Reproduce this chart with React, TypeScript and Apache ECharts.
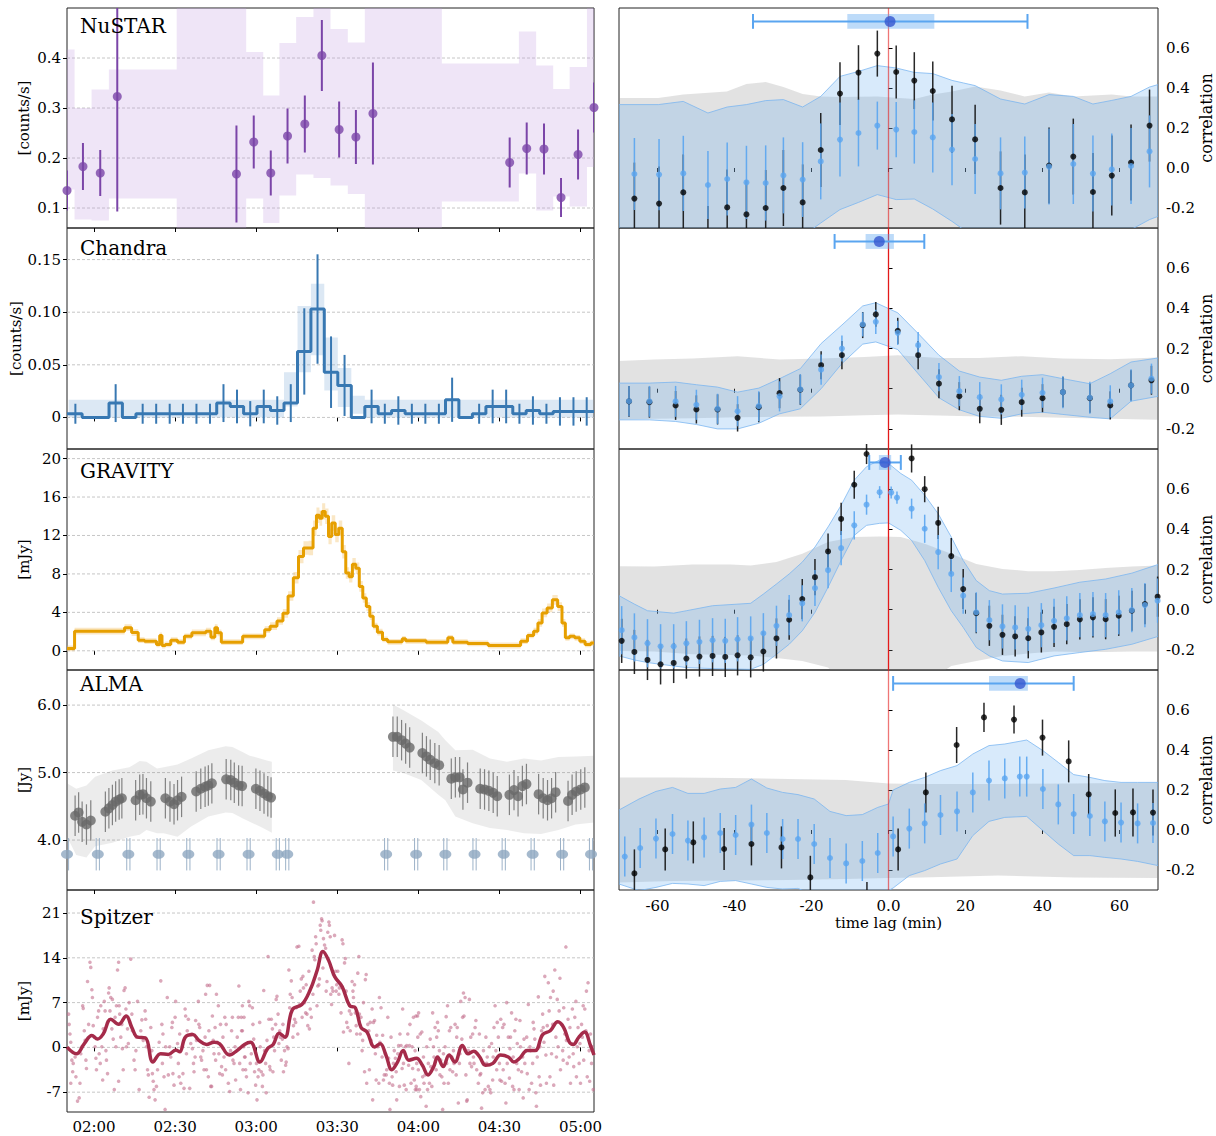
import React, { useEffect, useRef } from 'react'
import * as echarts from 'echarts'

const FONT = 'DejaVu Serif'

// ---------- shared axes ----------
const timeTicks = [120, 150, 180, 210, 240, 270, 300] // minutes after 00:00
const lagTicks = [-60, -40, -20, 0, 20, 40, 60]
const corrTicks = [-0.2, 0, 0.2, 0.4, 0.6]

// ---------- NuSTAR [counts/s] ----------
const nustarT = [110, 115.9, 122.3, 128.6, 172.7, 179.1, 185.4, 191.6, 198.0, 204.3, 210.7, 216.9, 223.2, 273.8, 280.1, 286.5, 292.8, 299.1, 305]
const nustarRate = [0.135, 0.183, 0.17, 0.323, 0.168, 0.232, 0.17, 0.244, 0.268, 0.405, 0.257, 0.242, 0.289, 0.191, 0.219, 0.218, 0.121, 0.207, 0.301]
const nustarErr = [0.04, 0.047, 0.046, 0.23, 0.097, 0.053, 0.045, 0.055, 0.057, 0.071, 0.056, 0.054, 0.102, 0.05, 0.052, 0.051, 0.039, 0.05, 0.05]
const nustarBandEdges = [110, 112.8, 119.1, 125.5, 150.6, 176.3, 182.6, 188.6, 194.8, 201.2, 207.5, 213.9, 220.2, 248.7, 277.2, 283.6, 289.9, 296.0, 302.4, 305]
const nustarBandLo = [0.137, 0.077, 0.075, 0.119, 0.04, 0.119, 0.07, 0.125, 0.167, 0.16, 0.145, 0.128, 0.04, 0.113, 0.169, 0.095, 0.123, 0.103, 0.182]
const nustarBandHi = [0.417, 0.3, 0.337, 0.377, 0.55, 0.412, 0.325, 0.43, 0.482, 0.55, 0.458, 0.431, 0.55, 0.389, 0.453, 0.385, 0.338, 0.382, 0.55]

// ---------- Chandra [counts/s], 5 min bins ----------
const chandraT = [113.1, 118.1, 123.1, 128.0, 133.0, 138.0, 143.0, 148.0, 152.9, 157.9, 162.9, 167.9, 172.9, 177.8, 182.8, 187.8, 192.8, 197.8, 202.7, 207.7, 212.7, 217.7, 222.7, 227.6, 232.6, 237.6, 242.6, 247.6, 252.5, 257.5, 262.5, 267.5, 272.5, 277.4, 282.4, 287.4, 292.4, 297.4, 302.3]
const chandraRate = [0.0035, 0, 0, 0.0136, 0, 0.0035, 0.0035, 0.0035, 0.0035, 0.0035, 0.0035, 0.0136, 0.0104, 0.0035, 0.0104, 0.0066, 0.0136, 0.0627, 0.103, 0.043, 0.0304, 0, 0.0104, 0.0035, 0.0066, 0.0035, 0.0035, 0.0035, 0.0168, 0, 0.0035, 0.0104, 0.0104, 0.0035, 0.0066, 0.0035, 0.0057, 0.0057, 0.0057]
const chandraErr = [0.0095, null, null, 0.018, null, 0.0095, 0.0095, 0.0095, 0.0095, 0.0095, 0.0095, 0.018, 0.016, 0.012, 0.016, 0.0135, 0.018, 0.041, 0.052, 0.034, 0.029, null, 0.016, 0.0095, 0.0135, 0.0095, 0.0095, 0.0095, 0.021, null, 0.0095, 0.016, 0.016, 0.0095, 0.0135, 0.0095, 0.0135, 0.0135, 0.0135]
const chandraBandLo = [0, 0, 0, 0, 0, 0, 0, 0, 0, 0, 0, 0, 0, 0, 0, 0, 0.0104, 0.043, 0.059, 0.0256, 0.0098, 0.0035, 0, 0, 0, 0, 0, 0, 0, 0, 0, 0, 0, 0, 0, 0, 0, 0, 0]
const chandraBandHi = [0.0168, 0.0168, 0.0168, 0.0168, 0.0168, 0.0168, 0.0168, 0.0168, 0.0168, 0.0168, 0.0168, 0.0168, 0.0168, 0.0168, 0.0168, 0.0168, 0.043, 0.106, 0.127, 0.076, 0.047, 0.0206, 0.0168, 0.0168, 0.0168, 0.0168, 0.0168, 0.0168, 0.0168, 0.0168, 0.0168, 0.0168, 0.0168, 0.0168, 0.0168, 0.0168, 0.0168, 0.0168, 0.0168]

// ---------- GRAVITY [mJy] ----------
const gravT = [110.0, 112.0, 113.6, 118.2, 124.1, 130.0, 132.6, 135.2, 137.5, 139.9, 142.3, 143.9, 144.7, 145.6, 147.2, 149.6, 152.2, 154.7, 157.7, 160.5, 162.3, 164.2, 165.2, 166.2, 168.0, 170.6, 173.5, 176.5, 179.5, 182.4, 183.9, 186.4, 189.0, 190.8, 192.8, 194.7, 196.6, 198.4, 200.4, 201.7, 202.9, 203.9, 204.9, 206.2, 207.3, 208.6, 209.9, 211.2, 212.5, 213.8, 215.0, 216.2, 217.5, 218.8, 220.1, 221.4, 222.7, 223.9, 225.8, 227.7, 229.6, 231.5, 233.4, 234.7, 235.9, 238.8, 242.3, 243.5, 246.7, 250.0, 251.8, 253.7, 255.6, 257.6, 258.9, 262.0, 265.2, 266.5, 270.4, 274.4, 276.6, 279.1, 281.7, 283.6, 284.9, 286.7, 288.6, 290.6, 292.5, 293.8, 295.0, 296.9, 298.8, 300.7, 302.7, 305.0]
const gravFlux = [0.24, 0.24, 2.04, 2.04, 2.04, 2.04, 2.4, 1.9, 1.1, 1.0, 1.0, 0.66, 1.6, 0.55, 0.66, 1.1, 0.9, 1.5, 1.87, 1.87, 2.04, 1.4, 2.4, 1.87, 0.9, 0.9, 0.9, 1.5, 1.5, 1.5, 2.2, 2.56, 3.1, 3.9, 5.7, 7.6, 9.8, 10.7, 10.7, 12.75, 14.1, 13.8, 14.5, 14.0, 11.9, 13.3, 12.1, 12.75, 10.3, 8.1, 7.7, 9.0, 8.6, 6.7, 5.5, 4.6, 3.6, 2.56, 1.94, 1.18, 0.93, 0.93, 0.93, 1.24, 1.04, 1.04, 1.04, 0.9, 0.9, 0.9, 1.35, 0.9, 0.9, 0.9, 0.76, 0.76, 0.76, 0.55, 0.55, 0.55, 0.55, 1.0, 1.6, 2.04, 2.9, 3.94, 4.46, 5.3, 4.6, 2.9, 1.35, 1.5, 1.35, 1.0, 0.66, 0.8]
const gravErr = [0.3, 0.3, 0.35, 0.35, 0.35, 0.35, 0.35, 0.35, 0.3, 0.3, 0.3, 0.3, 0.3, 0.3, 0.3, 0.3, 0.3, 0.3, 0.35, 0.35, 0.35, 0.3, 0.35, 0.35, 0.3, 0.3, 0.3, 0.3, 0.3, 0.3, 0.35, 0.4, 0.4, 0.45, 0.5, 0.6, 0.7, 0.7, 0.75, 0.8, 0.8, 0.8, 0.85, 0.8, 0.8, 0.8, 0.8, 0.8, 0.7, 0.6, 0.6, 0.65, 0.6, 0.55, 0.5, 0.45, 0.4, 0.35, 0.35, 0.3, 0.3, 0.3, 0.3, 0.3, 0.3, 0.3, 0.3, 0.3, 0.3, 0.3, 0.3, 0.3, 0.3, 0.3, 0.3, 0.3, 0.3, 0.3, 0.3, 0.3, 0.3, 0.3, 0.3, 0.35, 0.4, 0.45, 0.45, 0.5, 0.45, 0.4, 0.3, 0.3, 0.3, 0.3, 0.3, 0.3]

// ---------- ALMA [Jy] ----------
const almaT = [113.0, 114.3, 115.6, 117.2, 118.8, 124.2, 125.5, 126.8, 128.0, 129.3, 130.3, 135.4, 136.9, 138.1, 139.4, 141.0, 146.4, 148.1, 149.6, 150.9, 152.4, 157.8, 159.5, 161.1, 162.3, 163.6, 168.9, 170.6, 171.9, 173.5, 174.8, 179.9, 181.4, 182.9, 184.3, 185.5, 230.6, 232.2, 233.8, 235.3, 236.8, 241.5, 243.0, 244.4, 246.1, 247.7, 252.2, 253.7, 255.3, 256.5, 258.2, 262.9, 264.5, 266.1, 267.7, 269.2, 273.7, 275.4, 276.9, 278.5, 280.0, 284.5, 286.2, 287.8, 289.3, 290.8, 295.4, 296.9, 298.4, 300.1, 301.6]
const almaFlux = [4.36, 4.41, 4.27, 4.23, 4.29, 4.42, 4.47, 4.52, 4.57, 4.6, 4.62, 4.59, 4.67, 4.68, 4.62, 4.57, 4.62, 4.57, 4.53, 4.59, 4.64, 4.72, 4.76, 4.79, 4.81, 4.84, 4.9, 4.89, 4.85, 4.81, 4.8, 4.76, 4.73, 4.69, 4.65, 4.63, 5.53, 5.53, 5.48, 5.43, 5.37, 5.29, 5.24, 5.19, 5.14, 5.11, 4.91, 4.93, 4.93, 4.75, 4.85, 4.76, 4.75, 4.73, 4.7, 4.65, 4.67, 4.74, 4.65, 4.8, 4.83, 4.68, 4.62, 4.59, 4.62, 4.71, 4.58, 4.67, 4.72, 4.75, 4.78]
const ALMA_ERR = 0.3
const almaBand1T = [110, 113.4, 117.2, 120.4, 126.8, 133.1, 136.9, 139.4, 143.3, 145.8, 150.9, 155.9, 162.3, 168.7, 171.2, 175.1, 177.6, 181.4, 183.9, 185.8]
const almaBand1Lo = [4.05, 3.78, 3.74, 3.91, 3.96, 4.05, 4.08, 4.15, 4.1, 4.1, 4.05, 4.2, 4.35, 4.41, 4.4, 4.32, 4.27, 4.2, 4.15, 4.11]
const almaBand1Hi = [4.84, 4.76, 4.81, 4.94, 5.03, 5.08, 5.17, 5.16, 5.06, 5.08, 5.12, 5.21, 5.33, 5.39, 5.38, 5.3, 5.25, 5.21, 5.18, 5.16]
const almaBand2T = [230.6, 234.7, 241.1, 247.4, 250.0, 253.7, 260.1, 266.5, 272.8, 279.1, 285.4, 291.8, 298.2, 305]
const almaBand2Lo = [5.03, 4.99, 4.89, 4.67, 4.59, 4.35, 4.25, 4.18, 4.15, 4.1, 4.09, 4.15, 4.23, 4.26]
const almaBand2Hi = [6.01, 5.92, 5.77, 5.6, 5.48, 5.33, 5.34, 5.21, 5.16, 5.21, 5.18, 5.23, 5.24, 5.25]
const almaCalT = [110, 121.4, 132.7, 143.9, 154.9, 166.1, 177.2, 188.0, 191.5, 228.1, 239.2, 250.0, 260.8, 271.6, 282.3, 293.2, 303.9]
const almaCalFlux = [3.79, 3.79, 3.79, 3.79, 3.79, 3.79, 3.79, 3.79, 3.79, 3.79, 3.79, 3.79, 3.79, 3.79, 3.79, 3.79, 3.79]
const ALMA_CAL_ERR = 0.24

// ---------- Spitzer [mJy] ----------
const spitzerT = [110.0, 113.5, 116.35, 119.2, 121.3, 123.4, 126.2, 129.1, 131.9, 134.0, 136.1, 139.0, 141.8, 144.6, 147.5, 150.3, 151.7, 153.8, 156.6, 158.8, 161.6, 164.4, 166.5, 170.1, 172.9, 175.7, 177.9, 181.4, 184.2, 186.3, 188.5, 190.6, 193.4, 196.9, 199.8, 202.6, 204.7, 206.8, 209.0, 211.8, 214.6, 216.7, 218.8, 221.0, 223.8, 225.9, 228.0, 230.2, 232.3, 234.4, 236.5, 239.3, 241.5, 243.6, 245.7, 247.1, 249.2, 251.4, 253.5, 256.3, 258.4, 260.5, 262.7, 264.8, 267.6, 270.4, 273.3, 275.4, 277.5, 280.3, 283.2, 286.0, 288.8, 291.6, 293.8, 295.9, 297.3, 299.4, 301.5, 303.7, 305.0]
const spitzerFlux = [0.05, -1.0, 0.56, 1.85, 1.3, 2.1, 4.4, 3.6, 4.9, 3.1, 1.6, 1.5, -2.3, -1.0, -1.1, -0.4, -0.7, 1.6, 2.0, 1.1, 0.46, 0.8, 0.56, -1.2, -0.5, 0.46, 0.8, -2.3, -0.2, 0.46, 2.2, 1.6, 5.9, 6.7, 8.8, 12.1, 15.0, 13.6, 11.1, 9.5, 6.5, 6.2, 3.1, 2.4, 0.05, 0.56, -1.2, -3.5, -2.3, -0.5, -2.0, -1.7, -2.8, -4.3, -3.0, -1.5, -3.0, -1.2, -2.3, 0.3, -1.0, -0.6, -1.5, -2.8, -2.5, -1.2, -1.5, -2.3, -1.7, -0.5, -0.5, 2.0, 2.6, 4.0, 3.1, 0.8, 0.46, 1.6, 2.4, 0.3, -1.2]
const spitzerDots = [
  [110.6, 5.2], [110.8, 3.6], [111.1, 2.1], [111.4, 0.8], [111.8, -2.0], [112.1, -3.8], [111.4, -5.6], [112.3, -2.5], [113.0, -1.5], [113.3, -4.6], [113.9, -8.4], [114.5, -7.9], [114.8, -5.6], [115.1, -1.0], [115.5, 0.1], [115.8, 6.5], [116.0, 6.1], [116.4, 2.6], [116.7, 1.1], [117.0, -2.0],
  [117.2, -3.3], [117.6, 10.3], [118.0, 3.6], [118.5, 13.3], [118.8, 12.5], [119.2, 9.0], [119.4, 7.8], [119.7, 3.4], [120.1, 1.6], [120.4, 0.1], [120.7, -1.7], [120.9, -3.5], [121.3, 4.7], [121.7, 5.7], [121.9, -1.0], [122.3, -2.5], [122.5, 6.5], [122.9, 0.1], [123.2, -5.1], [123.4, 2.9],
  [123.8, 7.2], [124.1, 5.7], [124.4, -0.5], [124.6, -2.0], [125.0, -4.1], [125.4, 8.5], [125.6, 9.3], [125.9, 5.7], [126.2, 7.8], [126.6, 2.9], [126.8, 7.5], [127.1, 1.3], [127.5, -6.6], [127.8, 4.7], [128.1, 0.1], [128.3, 6.5], [128.7, 12.1], [129.1, 13.3], [129.1, -5.3], [129.3, 6.5],
  [129.5, 5.2], [129.9, 1.6], [130.3, 3.6], [130.5, -0.2], [130.8, -3.5], [131.1, 8.9], [131.5, 9.3], [131.8, 6.0], [132.0, 0.1], [132.4, 2.9], [132.7, 0.6], [133.0, 7.0], [133.6, 13.8], [134.0, 5.2], [134.2, 2.6], [134.8, -2.0], [135.2, -3.5], [135.5, -0.5], [135.7, 1.6], [136.1, 7.2],
  [136.7, -6.6], [137.3, 2.6], [137.7, 4.3], [138.2, 1.1], [138.9, 5.7], [139.1, 4.4], [139.4, 0.1], [139.8, -3.5], [140.1, -4.3], [140.4, -7.8], [141.0, 3.1], [141.4, -0.5], [141.6, -4.1], [141.9, -5.3], [142.2, -6.6], [142.6, -8.2], [143.1, -6.1], [143.5, -3.5], [144.1, 0.8], [144.7, 10.4],
  [145.1, 3.6], [145.3, -2.5], [145.5, 2.1], [145.9, -4.6], [146.3, -9.7], [146.5, 0.1], [147.1, 7.8], [147.5, -4.3], [148.0, 0.1], [148.4, -1.5], [148.8, 3.1], [149.0, 3.9], [149.2, -4.1], [149.6, -5.9], [150.0, 4.7], [150.2, 7.2], [150.9, 0.6], [151.2, -2.5], [151.5, -4.6], [151.7, 2.1],
  [152.1, -5.6], [152.7, 0.1], [152.9, -4.1], [153.3, -6.4], [153.7, 6.0], [153.9, 4.9], [154.2, -1.0], [154.5, 2.6], [154.9, 4.4], [155.4, -6.4], [155.8, 0.6], [156.1, 2.1], [156.4, -0.2], [156.8, -2.5], [157.0, -3.8], [157.4, -1.5], [157.6, 4.2], [157.9, 1.1], [158.6, 7.2], [158.8, 3.6],
  [159.1, 3.1], [159.5, -1.5], [159.8, -2.0], [160.3, -0.5], [160.7, -3.5], [161.1, 1.6], [161.3, 8.3], [161.6, -3.5], [161.9, 9.7], [162.3, -4.6], [162.5, 2.6], [162.8, 9.7], [163.2, -6.1], [163.5, -6.1], [163.8, 4.9], [164.1, 1.1], [164.4, -1.0], [164.8, 3.1], [165.0, -2.0], [165.3, 8.3],
  [165.6, 0.8], [166.0, 6.5], [166.2, -1.0], [166.5, -4.1], [166.8, 3.6], [167.2, -3.0], [167.5, -4.3], [167.7, 1.6], [168.1, -1.5], [168.4, 4.7], [168.7, -3.5], [168.9, 3.6], [169.7, -5.6], [169.9, -1.0], [170.2, -6.9], [170.5, -0.5], [170.9, 2.6], [171.2, 4.7], [171.4, -2.0], [171.8, -2.5],
  [172.2, 0.1], [172.4, -5.1], [173.0, 1.6], [173.4, 4.7], [173.6, 9.6], [173.9, -2.5], [174.2, -6.6], [174.6, 2.6], [174.9, 6.5], [175.1, -3.5], [175.5, 4.7], [175.9, -1.5],
  [174.5, 4.7], [174.9, 2.6], [175.4, 0.1], [175.7, -1.5], [176.1, -3.5], [176.4, -4.6], [177.0, -7.1], [177.3, 7.2], [177.6, 6.5], [177.8, -2.5], [178.2, -1.0], [178.6, 6.2], [178.8, 3.6], [179.1, 1.3], [179.4, -3.8], [179.8, -5.9], [180.1, -2.5], [180.3, -8.2], [180.7, -4.6], [181.0, -3.5],
  [181.3, 3.9], [181.5, 0.1], [181.9, -3.8], [182.3, -6.1], [182.5, -4.3], [182.8, 8.9], [183.1, -0.5], [183.5, -2.5], [183.7, -7.1], [184.0, 1.1], [184.4, 14.2], [184.7, 4.4], [185.0, -3.0], [185.2, -3.5], [185.6, 4.4], [186.0, 2.9], [186.2, -3.8], [186.5, 1.6], [186.8, -0.5], [187.2, 3.6],
  [187.4, 7.5], [187.7, 8.0], [188.1, 5.2], [188.4, 0.6], [188.7, 2.6], [188.9, 1.6], [189.3, -2.0], [189.7, 1.3], [189.9, 3.6], [190.1, -3.8], [190.5, -0.5], [190.9, -2.8], [191.1, -2.3], [191.4, 0.1], [191.8, -0.2], [192.1, 12.1], [192.4, 6.2], [192.6, 8.3], [193.0, 10.4], [193.3, 7.8],
  [193.6, 1.6], [193.8, 3.4], [194.2, 4.4], [194.6, 3.9], [194.8, 6.2], [195.1, 15.7], [195.4, 2.1], [195.8, 15.8], [196.1, 6.7], [196.3, 8.8], [196.7, 10.7], [197.0, 4.7], [197.3, 11.1], [197.5, 9.3], [197.9, 7.0], [198.3, 5.4], [198.5, 9.8], [198.8, 5.2], [199.1, 3.4], [199.5, 11.9],
  [199.7, 2.9], [200.0, 6.0], [200.4, 4.7], [200.7, 15.2], [201.0, 8.3], [201.2, 22.7], [201.5, 14.2], [201.7, 13.7], [202.0, 17.3], [202.2, 16.2], [202.5, 6.5], [202.8, 9.6], [203.2, 9.8], [203.4, 10.7], [203.7, 19.1], [203.9, 18.3], [204.2, 20.1], [204.4, 19.8], [204.7, 12.4], [204.9, 17.0],
  [205.3, 16.0], [205.7, 15.5], [205.9, 8.8], [206.2, 10.3], [206.5, 18.0], [206.9, 19.6], [207.1, 19.1], [207.4, 17.3], [207.6, 8.3], [207.9, 6.7], [208.1, 9.3], [208.4, 8.8], [208.6, 11.4], [209.0, 17.5], [209.4, 11.9], [209.6, 8.8], [209.8, 9.8], [210.2, 11.9], [210.6, 8.3], [210.8, 9.3],
  [211.4, 5.4], [211.8, 16.8], [212.1, 16.2], [212.3, 2.4], [212.7, 13.2], [213.0, 13.9], [213.3, 8.8], [213.5, 3.9], [213.9, 3.1], [214.3, -2.5], [214.5, 5.7], [214.8, 2.6], [215.1, 5.2], [215.5, 10.3], [215.8, 8.8], [216.0, 7.8], [216.4, 9.8], [216.7, 5.4], [217.0, 3.4], [217.2, 2.1],
  [217.6, 11.6], [218.0, 14.2], [218.2, 5.2], [218.5, 2.1], [218.8, 4.7], [219.2, -0.5], [219.4, 1.1], [219.7, 7.0], [220.1, -3.8], [220.4, 10.6], [220.7, 11.4], [220.9, -5.6], [221.3, 3.6], [221.7, 2.6], [221.9, -3.5], [222.2, 3.9], [222.5, 1.1], [222.9, 6.0], [223.1, -8.2], [223.4, 3.9],
  [223.8, 4.2], [224.1, -1.0], [224.4, -5.1], [224.6, 1.9], [225.0, 0.1], [225.4, -5.6], [225.6, 7.8], [225.8, 0.8], [226.2, 6.2], [226.6, -1.5], [226.8, 1.9], [227.1, -5.1], [227.4, -4.3], [227.8, -1.0], [228.1, -4.3], [228.3, -3.5], [228.7, 4.7], [229.0, -1.7], [229.3, -5.6], [229.5, -9.7],
  [229.9, 1.6], [230.3, -4.6], [230.5, -5.9], [230.8, -2.5], [231.1, -0.5], [231.5, -1.7], [231.8, -3.8], [232.0, -8.2], [232.4, -1.0], [232.7, 0.3], [233.0, -6.1], [233.2, 2.1], [233.6, 0.3], [234.0, -3.3], [234.2, 6.0], [234.5, -2.5], [234.8, -5.9], [235.2, 0.1], [235.5, -6.6], [235.7, 0.3],
  [236.1, 2.1], [236.4, -2.8], [236.7, 0.3], [236.9, 3.6], [237.3, -5.6], [237.7, 0.1], [237.9, -3.3], [238.2, 4.7], [238.5, -5.1], [238.9, -6.6], [239.1, 4.9], [239.4, -6.6], [239.8, 1.6], [240.1, 5.4],
  [238.8, -0.5], [239.2, -6.1], [239.4, -2.5], [239.7, 4.9], [240.0, -3.5], [240.4, -6.6], [240.7, 2.1], [240.9, -7.7], [241.3, 2.4], [241.6, -4.6], [241.9, -1.5], [242.1, -5.6], [242.5, -4.3], [242.9, -9.2], [243.1, 0.1], [243.4, -6.6], [243.7, -2.5], [244.1, -5.6], [244.4, 1.3], [244.6, -3.0],
  [245.0, -6.1], [245.3, 5.4], [245.6, 0.1], [245.8, -1.5], [246.2, 3.1], [246.6, -3.5], [246.8, 1.6], [247.1, 3.9], [247.4, 2.6], [247.8, -0.5], [248.0, -4.3], [248.3, -2.0], [248.7, -4.6], [249.0, -9.7], [249.3, -1.0], [249.5, -5.6], [249.9, 0.1], [250.3, 4.8], [250.5, -2.5], [250.8, 6.5],
  [251.1, -5.6], [251.5, 2.6], [251.7, -3.5], [252.0, 3.1], [252.4, -1.5], [252.7, -3.8], [253.0, -0.5], [253.2, -2.5], [253.6, 3.6], [254.0, -4.3], [254.2, 1.6], [254.4, 3.1], [254.8, -8.7], [255.2, -2.5], [255.4, -1.0], [255.7, 7.2], [256.1, 1.3], [256.4, 4.7], [256.7, 8.5], [256.9, 4.9],
  [257.3, 7.8], [257.6, -4.3], [257.9, -8.4], [258.1, -8.2], [258.5, -0.5], [258.9, 7.5], [259.1, -2.5], [259.4, 1.6], [259.7, -3.0], [260.1, 2.1], [260.4, -1.5], [260.6, -2.5], [261.0, 3.1], [261.3, 4.2], [261.6, -3.5], [261.8, -1.0], [262.2, -5.6], [262.6, 2.1], [262.8, -4.3], [263.1, -4.1],
  [263.4, -9.5], [263.8, -7.1], [264.1, -0.5], [264.3, -2.5], [264.7, -6.6], [265.0, 1.6], [265.3, -2.5], [265.5, -1.5], [265.9, -6.1], [266.3, 0.1], [266.5, -6.6], [266.8, -7.1], [267.1, 0.6], [267.5, -5.1], [267.7, -1.5], [268.0, 3.1], [268.4, 6.5], [268.7, -0.5], [269.0, -3.5], [269.2, 3.9],
  [269.6, 1.6], [270.0, -2.5], [270.2, -5.1], [270.5, 4.4], [270.8, -5.3], [271.2, 3.1], [271.4, -3.5], [271.7, 3.6], [272.1, -5.6], [272.4, -8.7], [272.7, 7.0], [272.9, -2.5], [273.3, 1.6], [273.7, -4.8], [273.9, -0.2], [274.1, 1.6], [274.5, 5.4], [274.9, -6.1], [275.1, -1.5], [275.4, -6.6],
  [275.7, 2.6], [276.1, 4.4], [276.4, -2.5], [276.6, 0.6], [277.0, -3.5], [277.3, -6.6], [277.6, 4.2], [277.8, 0.1], [278.2, -3.8], [278.6, -1.5], [278.8, -7.9], [279.1, 1.3], [279.4, -2.5], [279.8, -0.5], [280.1, 1.6], [280.3, -4.1], [280.7, 6.7], [281.0, -6.6], [281.3, 0.1], [281.5, -0.5],
  [281.9, -5.6], [282.3, -2.5], [282.5, 3.9], [282.8, 2.9], [283.1, 1.3], [283.5, -7.1], [283.7, -9.2], [284.0, -1.5], [284.4, 7.9], [284.7, -4.6], [285.0, 0.1], [285.2, -5.9], [285.6, 2.6], [286.0, 5.2], [286.2, 3.1], [286.5, 0.8], [286.8, 11.1], [287.2, -1.2], [287.4, -5.6], [287.7, 3.4],
  [288.1, 10.1], [288.4, 5.7], [288.7, -4.6], [288.9, 7.8], [289.3, -1.0], [289.7, 3.6], [289.9, 8.8], [290.1, -5.9], [290.5, 12.1], [290.9, 1.6], [291.1, -1.5], [291.4, 7.5], [291.7, 0.1], [292.1, 5.7], [292.4, 10.8], [292.6, -3.5], [293.0, 3.6], [293.4, -0.5], [293.6, -2.0], [293.8, 6.2],
  [294.2, 2.1], [294.6, 15.7], [294.8, 1.1], [295.1, -2.5], [295.4, 4.4], [295.8, -1.5], [296.1, 3.1], [296.3, -5.6], [296.7, 0.6], [297.0, 6.0], [297.3, -1.0], [297.5, -3.0], [297.9, 4.7], [298.3, 7.2], [298.5, -4.6], [298.8, 0.1], [299.1, 3.1], [299.5, -2.5], [299.8, 0.6], [300.0, -5.6],
  [300.4, 3.6], [300.7, 1.6], [301.0, 6.5], [301.2, -2.0], [301.6, 6.0], [302.0, 2.6], [302.2, 8.8], [302.5, -4.6], [302.8, 10.1], [303.2, -0.5], [303.4, -5.3], [303.7, 2.1], [304.1, -2.5], [304.4, 0.1], [304.7, -6.6],
]

// ---------- cross-correlations (time lag in min) ----------
const summaryLevel = 0.733
const summaryLag = [0.4, -2.4, -0.9, 34.2]
const summaryWhiskerLo = [-35.2, -14.0, -5.0, 1.2]
const summaryWhiskerHi = [36.1, 9.3, 3.2, 48.1]
const summaryBoxLo = [-10.7, -5.95, -2.5, 26.1]
const summaryBoxHi = [11.9, 1.4, 0.7, 36.2]

// row 1
const c1Lag = [-66.0, -59.6, -53.3, -46.9, -41.9, -36.9, -31.9, -27.3, -22.3, -17.6, -12.6, -7.8, -2.9, 2.0, 6.7, 11.5, 16.5, 22.5, 29.1, 35.4, 41.7, 48.0, 53.1, 58.0, 63.0, 67.8]
const c1Blue = [-0.03, -0.033, -0.027, -0.085, -0.055, -0.072, -0.075, -0.037, -0.058, 0.033, 0.142, 0.175, 0.212, 0.192, 0.18, 0.153, 0.092, 0.045, -0.027, -0.023, 0.007, 0.02, -0.028, -0.007, 0.01, 0.083]
const c1BlueErr = [0.18, 0.178, 0.188, 0.17, 0.183, 0.183, 0.188, 0.19, 0.187, 0.19, 0.185, 0.167, 0.12, 0.138, 0.158, 0.175, 0.178, 0.175, 0.18, 0.18, 0.19, 0.2, 0.19, 0.18, 0.19, 0.18]
const c1Black = [-0.153, -0.178, -0.122, -0.36, -0.197, -0.232, -0.2, -0.1, -0.172, 0.09, 0.372, 0.477, 0.572, 0.48, 0.437, 0.385, 0.243, 0.143, -0.1, -0.122, 0.012, 0.057, -0.12, -0.038, 0.027, 0.212]
const c1BlackErr = [0.18, 0.185, 0.19, 0.17, 0.19, 0.17, 0.19, 0.19, 0.19, 0.185, 0.157, 0.137, 0.115, 0.133, 0.142, 0.148, 0.168, 0.173, 0.183, 0.19, 0.19, 0.19, 0.195, 0.2, 0.19, 0.18]
const c1NullLag = [-70, -59.8, -53.3, -42.0, -36.9, -31.9, -27.3, -22.3, -17.6, -12.6, -2.9, 6.7, 11.5, 16.5, 22.5, 29.1, 35.4, 41.7, 48.0, 53.1, 58.0, 63.0, 70]
const c1NullLo = [-0.45, -0.45, -0.45, -0.45, -0.45, -0.45, -0.45, -0.45, -0.45, -0.45, -0.45, -0.45, -0.45, -0.45, -0.45, -0.45, -0.45, -0.45, -0.45, -0.45, -0.45, -0.45, -0.45]
const c1NullHi = [0.35, 0.35, 0.367, 0.383, 0.42, 0.43, 0.405, 0.37, 0.358, 0.355, 0.358, 0.345, 0.367, 0.383, 0.408, 0.388, 0.358, 0.378, 0.358, 0.362, 0.367, 0.358, 0.358]
const c1BandLag = [-70, -59.8, -53.3, -46.9, -41.9, -36.9, -31.9, -27.3, -22.3, -17.6, -12.6, -7.8, -2.9, 2.0, 6.7, 11.5, 16.5, 19.5, 22.5, 29.1, 35.4, 41.7, 48.0, 53.1, 58.0, 63.0, 67.8, 70]
const c1BandLo = [-0.45, -0.45, -0.45, -0.45, -0.45, -0.45, -0.45, -0.42, -0.34, -0.275, -0.208, -0.172, -0.133, -0.158, -0.155, -0.205, -0.267, -0.308, -0.35, -0.45, -0.45, -0.45, -0.45, -0.42, -0.36, -0.308, -0.258, -0.242]
const c1BandHi = [0.317, 0.317, 0.333, 0.275, 0.305, 0.317, 0.337, 0.342, 0.305, 0.358, 0.458, 0.483, 0.512, 0.5, 0.478, 0.472, 0.438, 0.425, 0.412, 0.345, 0.32, 0.367, 0.358, 0.32, 0.338, 0.358, 0.405, 0.417]

// row 2
const c2Lag = [-67.4, -62.1, -55.3, -49.9, -44.4, -39.2, -33.7, -28.3, -22.9, -17.5, -12.1, -6.7, -3.3, 2.4, 7.7, 13.1, 18.4, 23.7, 29.3, 34.6, 40.0, 45.3, 52.3, 57.6, 63.0, 68.3]
const c2Blue = [-0.062, -0.063, -0.063, -0.08, -0.1, -0.112, -0.087, -0.038, -0.003, 0.095, 0.2, 0.32, 0.333, 0.278, 0.217, 0.058, -0.012, -0.042, -0.053, -0.03, -0.02, -0.017, -0.045, -0.063, 0.017, 0.05]
const c2BlueErr = [0.075, 0.077, 0.077, 0.075, 0.075, 0.075, 0.075, 0.075, 0.075, 0.075, 0.065, 0.06, 0.06, 0.06, 0.065, 0.07, 0.075, 0.075, 0.075, 0.075, 0.075, 0.08, 0.08, 0.08, 0.08, 0.075]
const c2Black = [-0.063, -0.067, -0.083, -0.103, -0.103, -0.145, -0.092, -0.022, -0.005, 0.117, 0.167, 0.317, 0.37, 0.288, 0.167, 0.025, -0.037, -0.1, -0.105, -0.067, -0.047, -0.017, -0.047, -0.083, 0.017, 0.042]
const c2BlackErr = [0.077, 0.077, 0.072, 0.07, 0.075, 0.068, 0.075, 0.075, 0.075, 0.07, 0.07, 0.065, 0.062, 0.065, 0.07, 0.072, 0.07, 0.072, 0.075, 0.072, 0.07, 0.075, 0.072, 0.07, 0.075, 0.072]
const c2NullLag = [-70, -60.8, -50.9, -39.2, -28.3, -17.5, -6.2, 2.4, 13.1, 23.7, 34.6, 45.3, 57.6, 70]
const c2NullLo = [-0.155, -0.15, -0.147, -0.142, -0.14, -0.138, -0.132, -0.128, -0.133, -0.138, -0.14, -0.145, -0.15, -0.155]
const c2NullHi = [0.138, 0.145, 0.15, 0.162, 0.145, 0.15, 0.158, 0.167, 0.153, 0.153, 0.162, 0.15, 0.147, 0.155]
const c2BandLag = [-70, -62.1, -55.3, -49.9, -44.4, -39.2, -33.7, -28.3, -22.9, -17.5, -12.1, -6.7, -3.3, 2.4, 7.7, 13.1, 18.4, 23.7, 29.3, 34.6, 40.0, 45.3, 52.3, 57.6, 63.0, 70]
const c2BandLo = [-0.155, -0.155, -0.163, -0.178, -0.2, -0.2, -0.172, -0.125, -0.1, 0.0, 0.125, 0.222, 0.233, 0.195, 0.075, -0.045, -0.105, -0.138, -0.147, -0.125, -0.117, -0.128, -0.142, -0.15, -0.062, -0.038]
const c2BandHi = [0.028, 0.028, 0.033, 0.02, 0.008, -0.017, 0.003, 0.05, 0.1, 0.225, 0.317, 0.412, 0.428, 0.378, 0.275, 0.167, 0.088, 0.058, 0.042, 0.062, 0.07, 0.05, 0.025, 0.075, 0.133, 0.153]

// row 3
const c3BlueLag = [-69.3, -66.0, -62.6, -59.2, -55.8, -52.5, -49.1, -45.7, -42.4, -39.2, -35.8, -32.5, -29.1, -25.8, -22.4, -19.1, -15.7, -12.3, -8.9, -5.7, -2.3, 0.7, 2.2, 6.0, 9.4, 12.9, 16.3, 19.4, 22.8, 26.2, 29.6, 32.9, 36.3, 39.7, 43.0, 46.3, 49.7, 53.1, 56.4, 59.8, 63.2, 66.6, 69.9]
const c3Blue = [-0.102, -0.138, -0.167, -0.182, -0.182, -0.167, -0.16, -0.152, -0.155, -0.147, -0.143, -0.117, -0.08, -0.027, 0.032, 0.108, 0.197, 0.307, 0.42, 0.523, 0.585, 0.583, 0.558, 0.503, 0.403, 0.287, 0.178, 0.07, -0.013, -0.052, -0.083, -0.088, -0.095, -0.077, -0.055, -0.043, -0.027, -0.022, -0.027, -0.013, -0.002, 0.023, 0.045]
const c3BlueErr = [0.12, 0.12, 0.12, 0.11, 0.11, 0.11, 0.11, 0.11, 0.11, 0.11, 0.11, 0.1, 0.1, 0.1, 0.09, 0.09, 0.09, 0.085, 0.07, 0.05, 0.03, 0.03, 0.03, 0.05, 0.07, 0.085, 0.09, 0.09, 0.1, 0.1, 0.11, 0.11, 0.11, 0.11, 0.11, 0.11, 0.11, 0.11, 0.11, 0.11, 0.11, 0.11, 0.11]
const c3BlackLag = [-69.3, -66.0, -62.6, -59.2, -55.8, -52.5, -49.1, -45.7, -42.4, -39.2, -35.8, -32.5, -29.1, -25.8, -22.4, -19.1, -15.7, -12.3, -8.9, -5.7, 6.0, 9.4, 12.9, 16.3, 19.4, 22.8, 26.2, 29.6, 32.9, 36.3, 39.7, 43.0, 46.3, 49.7, 53.1, 56.4, 59.8, 63.2, 66.6, 69.9]
const c3Black = [-0.155, -0.21, -0.25, -0.272, -0.265, -0.243, -0.233, -0.23, -0.235, -0.227, -0.237, -0.208, -0.143, -0.05, 0.053, 0.162, 0.29, 0.452, 0.622, 0.775, 0.753, 0.6, 0.432, 0.267, 0.103, -0.017, -0.08, -0.125, -0.133, -0.142, -0.113, -0.085, -0.072, -0.048, -0.038, -0.047, -0.03, -0.005, 0.028, 0.065]
const c3BlackErr = [0.11, 0.11, 0.1, 0.1, 0.1, 0.1, 0.1, 0.1, 0.1, 0.1, 0.1, 0.1, 0.1, 0.1, 0.1, 0.09, 0.09, 0.08, 0.07, 0.05, 0.07, 0.065, 0.08, 0.09, 0.1, 0.1, 0.1, 0.1, 0.1, 0.1, 0.1, 0.1, 0.1, 0.1, 0.1, 0.1, 0.1, 0.1, 0.1, 0.1]
const c3NullLag = [-70, -60.8, -50.9, -41.0, -35.8, -29.1, -22.4, -15.7, -8.9, -2.3, 3.2, 9.4, 16.3, 22.8, 29.6, 36.3, 43.0, 49.7, 56.4, 63.2, 70]
const c3NullLo = [-0.205, -0.208, -0.222, -0.225, -0.228, -0.24, -0.255, -0.288, -0.42, -0.45, -0.45, -0.37, -0.28, -0.255, -0.23, -0.218, -0.208, -0.21, -0.21, -0.208, -0.208]
const c3NullHi = [0.217, 0.215, 0.225, 0.225, 0.22, 0.237, 0.278, 0.337, 0.362, 0.365, 0.362, 0.328, 0.278, 0.228, 0.203, 0.192, 0.192, 0.198, 0.208, 0.215, 0.22]
const c3BandLag = [-70, -66.0, -62.6, -55.8, -52.5, -45.7, -35.8, -32.5, -29.1, -25.8, -22.4, -19.1, -15.7, -12.3, -8.9, -5.7, -2.3, 0, 3.2, 6.0, 9.4, 12.9, 16.3, 19.4, 22.8, 26.2, 29.6, 36.3, 43.0, 49.7, 56.4, 63.2, 70]
const c3BandLo = [-0.23, -0.25, -0.263, -0.28, -0.288, -0.293, -0.297, -0.272, -0.222, -0.172, -0.105, -0.013, 0.112, 0.245, 0.37, 0.42, 0.43, 0.432, 0.395, 0.345, 0.245, 0.112, -0.005, -0.088, -0.188, -0.23, -0.255, -0.263, -0.23, -0.213, -0.197, -0.172, -0.133]
const c3BandHi = [0.07, 0.028, -0.005, -0.017, -0.005, 0.02, 0.032, 0.078, 0.128, 0.178, 0.237, 0.312, 0.412, 0.52, 0.645, 0.712, 0.745, 0.728, 0.678, 0.645, 0.57, 0.478, 0.362, 0.245, 0.145, 0.095, 0.078, 0.082, 0.108, 0.137, 0.153, 0.182, 0.225]

// row 4
const c4BlueLag = [-68.5, -64.5, -60.4, -56.1, -52.1, -47.9, -43.7, -39.7, -35.6, -31.6, -27.5, -23.5, -19.3, -15.2, -11.0, -6.8, -2.8, 1.2, 5.4, 9.4, 13.5, 17.8, 21.9, 26.1, 30.2, 34.1, 35.9, 40.1, 44.1, 48.1, 52.3, 56.2, 60.4, 64.7, 68.7]
const c4Blue = [-0.133, -0.09, -0.043, -0.02, -0.053, -0.037, -0.015, -0.025, 0.027, -0.015, -0.045, -0.045, -0.07, -0.14, -0.167, -0.155, -0.115, -0.032, 0.007, 0.033, 0.075, 0.093, 0.188, 0.247, 0.258, 0.267, 0.267, 0.205, 0.128, 0.08, 0.07, 0.043, 0.037, 0.033, 0.035]
const c4BlueErr = [0.1, 0.1, 0.1, 0.1, 0.1, 0.1, 0.1, 0.1, 0.1, 0.1, 0.1, 0.1, 0.1, 0.1, 0.1, 0.1, 0.1, 0.1, 0.1, 0.1, 0.1, 0.1, 0.1, 0.1, 0.1, 0.1, 0.1, 0.1, 0.1, 0.1, 0.1, 0.1, 0.1, 0.1, 0.1]
const c4BlackLag = [-66.0, -58.0, -50.7, -42.7, -35.6, -27.8, -20.3, -5.6, 2.5, 9.7, 17.7, 24.8, 32.6, 40.0, 46.8, 52.0, 58.9, 63.5, 68.7]
const c4Black = [-0.217, -0.097, -0.062, -0.095, -0.07, -0.087, -0.237, -0.36, -0.097, 0.188, 0.425, 0.563, 0.552, 0.462, 0.343, 0.178, 0.085, 0.088, 0.087]
const c4BlackErr = [0.12, 0.105, 0.105, 0.105, 0.107, 0.105, 0.108, 0.1, 0.105, 0.1, 0.09, 0.073, 0.07, 0.09, 0.105, 0.102, 0.118, 0.12, 0.115]
const c4NullLag = [-70, -55.8, -41.0, -26.1, -11.2, 0, 8.6, 28.5, 48.3, 70]
const c4NullLo = [-0.262, -0.255, -0.252, -0.25, -0.245, -0.24, -0.237, -0.228, -0.237, -0.24]
const c4NullHi = [0.263, 0.263, 0.26, 0.255, 0.25, 0.233, 0.23, 0.23, 0.233, 0.238]
const c4BandLag = [-70, -64.8, -60.4, -56.1, -52.1, -47.9, -43.7, -39.7, -35.6, -31.6, -27.5, -23.5, -19.3, -15.2, -11.0, -6.8, -2.8, 0, 1.2, 5.4, 9.4, 13.5, 17.8, 21.9, 26.1, 30.2, 35.9, 40.1, 44.1, 48.1, 52.3, 56.2, 60.4, 64.7, 70]
const c4BandLo = [-0.27, -0.303, -0.287, -0.267, -0.27, -0.278, -0.257, -0.253, -0.27, -0.287, -0.295, -0.292, -0.328, -0.45, -0.45, -0.45, -0.4, -0.303, -0.29, -0.228, -0.203, -0.17, -0.145, -0.028, 0.043, 0.063, 0.068, -0.003, -0.07, -0.128, -0.128, -0.137, -0.145, -0.157, -0.178]
const c4BandHi = [0.1, 0.155, 0.193, 0.213, 0.183, 0.183, 0.205, 0.213, 0.255, 0.21, 0.188, 0.177, 0.155, 0.093, 0.072, 0.077, 0.113, 0.13, 0.2, 0.238, 0.263, 0.297, 0.322, 0.38, 0.422, 0.43, 0.45, 0.397, 0.338, 0.277, 0.263, 0.247, 0.238, 0.238, 0.238]

// ---------- layout ----------
const rows = [
  { top: 8, height: 220 },
  { top: 228, height: 221 },
  { top: 449, height: 221 },
  { top: 670, height: 220 },
  { top: 890, height: 222 },
]
const LEFT_X = 67
const LEFT_W = 527
const RIGHT_X = 619
const RIGHT_W = 539

const txt = { fontFamily: FONT, fontSize: 15, color: '#000' }

const pad2 = (n: number) => String(n).padStart(2, '0')
const clock = (v: number) => `${pad2(Math.floor(v / 60))}:${pad2(Math.round(v % 60))}`

const xy = (xs: number[], ys: number[]) => xs.map((x, i) => [x, ys[i]])

// closed polygons in data units
const linearBand = (xs: number[], lo: number[], hi: number[]) => [
  ...xs.map((x, i) => [x, hi[i]]),
  ...xs.map((x, i) => [x, lo[i]]).reverse(),
]
const binBand = (edges: number[], lo: number[], hi: number[]) => {
  const up: number[][] = []
  const dn: number[][] = []
  for (let i = 0; i < lo.length; i++) {
    up.push([edges[i], hi[i]], [edges[i + 1], hi[i]])
    dn.push([edges[i], lo[i]], [edges[i + 1], lo[i]])
  }
  return [...up, ...dn.reverse()]
}
const midEdges = (c: number[]) => {
  const e = [c[0] - (c[1] - c[0]) / 2]
  for (let i = 1; i < c.length; i++) e.push((c[i - 1] + c[i]) / 2)
  e.push(c[c.length - 1] + (c[c.length - 1] - c[c.length - 2]) / 2)
  return e
}

function band(g: number, pts: number[][], fill: string, stroke?: string, z = 2) {
  return {
    type: 'custom', xAxisIndex: g, yAxisIndex: g, data: [pts[0]], encode: { x: 0, y: 1 },
    clip: true, silent: true, z,
    renderItem: (_p: any, api: any) => ({
      type: 'polygon',
      shape: { points: pts.map((p) => api.coord(p)) },
      style: stroke ? { fill, stroke, lineWidth: 0.9 } : { fill },
    }),
  }
}

function errorBars(g: number, xs: number[], ys: number[], errs: any, color: string, width: number, opt: any = {}) {
  const data: number[][] = []
  xs.forEach((x, i) => {
    const e = Array.isArray(errs) ? errs[i] : errs
    if (e != null) data.push([x, ys[i], e])
  })
  const offs = opt.double ? [-1.6, 1.6] : [0]
  return {
    type: 'custom', xAxisIndex: g, yAxisIndex: g, data, encode: { x: 0, y: 1 },
    clip: opt.clip ?? true, silent: true, z: opt.z ?? 4,
    renderItem: (_p: any, api: any) => {
      const x = api.value(0), y = api.value(1), e = api.value(2)
      const a = api.coord([x, y - e])
      const b = api.coord([x, y + e])
      return {
        type: 'group',
        children: offs.map((d) => ({
          type: 'line',
          shape: { x1: a[0] + d, y1: a[1], x2: b[0] + d, y2: b[1] },
          style: { stroke: color, lineWidth: width, opacity: opt.opacity ?? 1 },
        })),
      }
    },
  }
}

function dots(g: number, data: number[][], color: string, size: any, z = 5) {
  return {
    type: 'scatter', xAxisIndex: g, yAxisIndex: g, data, symbol: 'circle', symbolSize: size,
    itemStyle: { color }, silent: true, z,
  }
}

function hGrid(g: number, vals: number[], x0: number) {
  return {
    type: 'custom', xAxisIndex: g, yAxisIndex: g, data: vals.map((v) => [x0, v]), encode: { x: 0, y: 1 },
    silent: true, z: 1,
    renderItem: (p: any, api: any) => {
      const cs = p.coordSys
      const y = api.coord([api.value(0), api.value(1)])[1]
      return { type: 'line', shape: { x1: cs.x, y1: y, x2: cs.x + cs.width, y2: y }, style: { stroke: '#b8b8b8', lineWidth: 0.8, lineDash: [3, 2] } }
    },
  }
}

function vLine(g: number, x: number, color: string, opacity: number) {
  return {
    type: 'custom', xAxisIndex: g, yAxisIndex: g, data: [[x, 0]], encode: { x: 0, y: 1 },
    silent: true, z: 3,
    renderItem: (p: any, api: any) => {
      const cs = p.coordSys
      const px = api.coord([api.value(0), api.value(1)])[0]
      return { type: 'line', shape: { x1: px, y1: cs.y, x2: px, y2: cs.y + cs.height }, style: { stroke: color, lineWidth: 1.3, opacity } }
    },
  }
}

function summary(g: number, k: number) {
  const h = 0.037
  return {
    type: 'custom', xAxisIndex: g, yAxisIndex: g, data: [[summaryLag[k], summaryLevel]], encode: { x: 0, y: 1 },
    silent: true, z: 6,
    renderItem: (_p: any, api: any) => {
      const y = summaryLevel
      const b0 = api.coord([summaryBoxLo[k], y + h])
      const b1 = api.coord([summaryBoxHi[k], y - h])
      const w0 = api.coord([summaryWhiskerLo[k], y])
      const w1 = api.coord([summaryWhiskerHi[k], y])
      const capTop = api.coord([summaryWhiskerLo[k], y + h])[1]
      const capBot = api.coord([summaryWhiskerLo[k], y - h])[1]
      const line = (x1: number, y1: number, x2: number, y2: number) => ({
        type: 'line', shape: { x1, y1, x2, y2 }, style: { stroke: '#5aa5f0', lineWidth: 2 },
      })
      return {
        type: 'group',
        children: [
          { type: 'rect', shape: { x: b0[0], y: b0[1], width: b1[0] - b0[0], height: b1[1] - b0[1] }, style: { fill: 'rgba(90,165,240,0.4)' } },
          line(w0[0], w0[1], w1[0], w1[1]),
          line(w0[0], capTop, w0[0], capBot),
          line(w1[0], capTop, w1[0], capBot),
        ],
      }
    },
  }
}

const corrRows = [
  { lagBlue: c1Lag, blue: c1Blue, blueErr: c1BlueErr, lagBlack: c1Lag, black: c1Black, blackErr: c1BlackErr, nullBand: linearBand(c1NullLag, c1NullLo, c1NullHi), ciBand: linearBand(c1BandLag, c1BandLo, c1BandHi), red: 0.6, clipBlack: true },
  { lagBlue: c2Lag, blue: c2Blue, blueErr: c2BlueErr, lagBlack: c2Lag, black: c2Black, blackErr: c2BlackErr, nullBand: linearBand(c2NullLag, c2NullLo, c2NullHi), ciBand: linearBand(c2BandLag, c2BandLo, c2BandHi), red: 1, clipBlack: true },
  { lagBlue: c3BlueLag, blue: c3Blue, blueErr: c3BlueErr, lagBlack: c3BlackLag, black: c3Black, blackErr: c3BlackErr, nullBand: linearBand(c3NullLag, c3NullLo, c3NullHi), ciBand: linearBand(c3BandLag, c3BandLo, c3BandHi), red: 1, clipBlack: false },
  { lagBlue: c4BlueLag, blue: c4Blue, blueErr: c4BlueErr, lagBlack: c4BlackLag, black: c4Black, blackErr: c4BlackErr, nullBand: linearBand(c4NullLag, c4NullLo, c4NullHi), ciBand: linearBand(c4BandLag, c4BandLo, c4BandHi), red: 0.6, clipBlack: true },
]

const leftY = [
  { min: 0.06, max: 0.5, ticks: [0.1, 0.2, 0.3, 0.4], fmt: (v: number) => v.toFixed(1), name: '[counts/s]' },
  { min: -0.03, max: 0.18, ticks: [0, 0.05, 0.1, 0.15], fmt: (v: number) => (v === 0 ? '0' : v.toFixed(2)), name: '[counts/s]' },
  { min: -2, max: 21, ticks: [0, 4, 8, 12, 16, 20], fmt: (v: number) => String(v), name: '[mJy]' },
  { min: 3.26, max: 6.52, ticks: [4, 5, 6], fmt: (v: number) => v.toFixed(1), name: '[Jy]' },
  { min: -10.1, max: 24.6, ticks: [-7, 0, 7, 14, 21], fmt: (v: number) => String(v), name: '[mJy]' },
]

const panelTitles = [
  { text: 'NuSTAR', top: 16 },
  { text: 'Chandra', top: 238 },
  { text: 'GRAVITY', top: 461 },
  { text: 'ALMA', top: 674 },
  { text: 'Spitzer', top: 907 },
]

function buildOption() {
  const grid: any[] = []
  const xAxis: any[] = []
  const yAxis: any[] = []
  const series: any[] = []

  rows.forEach((r, i) => {
    grid.push({ left: LEFT_X, top: r.top, width: LEFT_W, height: r.height, show: true, borderColor: '#222', borderWidth: 1, backgroundColor: 'transparent' })
    xAxis.push({
      type: 'value', gridIndex: i, min: 110, max: 305,
      axisLine: { show: false }, splitLine: { show: false },
      axisTick: { show: true, customValues: timeTicks, length: 4, lineStyle: { color: '#000' } },
      axisLabel: { show: i === 4, customValues: timeTicks, formatter: clock, margin: 7, ...txt },
    })
    const y = leftY[i]
    yAxis.push({
      type: 'value', gridIndex: i, min: y.min, max: y.max, position: 'left',
      axisLine: { show: false }, splitLine: { show: false },
      axisTick: { show: true, customValues: y.ticks, length: 4, lineStyle: { color: '#000' } },
      axisLabel: { customValues: y.ticks, formatter: y.fmt, margin: 6, ...txt },
      name: y.name, nameLocation: 'middle', nameGap: 36, nameRotate: 90, nameTextStyle: txt,
    })
    series.push(hGrid(i, y.ticks, 110))
  })

  rows.slice(0, 4).forEach((r, k) => {
    const g = 5 + k
    grid.push({ left: RIGHT_X, top: r.top, width: RIGHT_W, height: r.height, show: true, borderColor: '#222', borderWidth: 1, backgroundColor: 'transparent' })
    xAxis.push({
      type: 'value', gridIndex: g, min: -70, max: 70,
      axisLine: { show: false }, splitLine: { show: false },
      axisTick: { show: true, customValues: lagTicks, length: 4, lineStyle: { color: '#000' } },
      axisLabel: { show: k === 3, customValues: lagTicks, formatter: (v: number) => (v === 0 ? '0.0' : String(v)), margin: 8, ...txt },
      name: k === 3 ? 'time lag (min)' : '', nameLocation: 'middle', nameGap: 25, nameTextStyle: txt,
    })
    yAxis.push({
      type: 'value', gridIndex: g, min: -0.3, max: 0.8, position: 'right',
      axisLine: { show: false }, splitLine: { show: false },
      axisTick: { show: true, customValues: corrTicks, length: 4, lineStyle: { color: '#000' } },
      axisLabel: { customValues: corrTicks, formatter: (v: number) => v.toFixed(1), margin: 8, ...txt },
      name: 'correlation', nameLocation: 'middle', nameGap: 35, nameRotate: 90, nameTextStyle: { ...txt, fontSize: 16 },
    })
    const c = corrRows[k]
    series.push(band(g, c.nullBand, 'rgba(140,140,140,0.25)', undefined, 1))
    series.push(band(g, c.ciBand, 'rgba(100,170,240,0.25)', 'rgba(120,180,240,0.85)', 2))
    series.push(vLine(g, 0, '#e41a1a', c.red))
    series.push(errorBars(g, c.lagBlack, c.black, c.blackErr, '#111', 1.5, { clip: c.clipBlack, opacity: 0.9 }))
    series.push(errorBars(g, c.lagBlue, c.blue, c.blueErr, '#5aa5f0', 1.5, { opacity: 0.9 }))
    series.push(dots(g, xy(c.lagBlack, c.black), '#000', 6))
    series.push(dots(g, xy(c.lagBlue, c.blue), '#5aa5f0', 6))
    series.push(summary(g, k))
    series.push(dots(g, [[summaryLag[k], summaryLevel]], '#3556d0', 11, 7))
  })

  // NuSTAR
  series.push(band(0, binBand(nustarBandEdges, nustarBandLo, nustarBandHi), 'rgba(190,150,225,0.25)'))
  series.push(errorBars(0, nustarT, nustarRate, nustarErr, '#7b45a8', 2))
  series.push(dots(0, xy(nustarT, nustarRate), '#7b45a8', 9))

  // Chandra
  series.push(band(1, binBand(midEdges(chandraT), chandraBandLo, chandraBandHi), 'rgba(140,180,220,0.3)'))
  series.push({
    type: 'line', xAxisIndex: 1, yAxisIndex: 1, step: 'middle', showSymbol: false, silent: true, z: 3,
    data: [[110, chandraRate[0]], ...xy(chandraT, chandraRate), [305, chandraRate[chandraRate.length - 1]]],
    lineStyle: { color: '#3878b2', width: 3 },
  })
  series.push(errorBars(1, chandraT, chandraRate, chandraErr, '#3878b2', 2))

  // GRAVITY
  series.push(band(2, binBand(midEdges(gravT), gravFlux.map((v, i) => v - gravErr[i]), gravFlux.map((v, i) => v + gravErr[i])), 'rgba(240,185,90,0.35)'))
  series.push({
    type: 'line', xAxisIndex: 2, yAxisIndex: 2, step: 'middle', showSymbol: false, silent: true, z: 3,
    data: xy(gravT, gravFlux), lineStyle: { color: '#e69f00', width: 3 },
  })

  // ALMA
  series.push(band(3, linearBand(almaBand1T, almaBand1Lo, almaBand1Hi), 'rgba(128,128,128,0.15)'))
  series.push(band(3, linearBand(almaBand2T, almaBand2Lo, almaBand2Hi), 'rgba(128,128,128,0.15)'))
  series.push(errorBars(3, almaT, almaFlux, ALMA_ERR, '#707070', 1.2, { opacity: 0.85 }))
  series.push(dots(3, xy(almaT, almaFlux), '#696969', 10))
  series.push(errorBars(3, almaCalT, almaCalFlux, ALMA_CAL_ERR, '#9cb2c8', 1, { double: true }))
  series.push(dots(3, xy(almaCalT, almaCalFlux), '#8ea7c0', [12, 9]))

  // Spitzer
  series.push(dots(4, spitzerDots, 'rgba(195,110,140,0.75)', 3.6, 2))
  series.push({
    type: 'line', xAxisIndex: 4, yAxisIndex: 4, smooth: 0.4, showSymbol: false, silent: true, z: 3,
    data: xy(spitzerT, spitzerFlux), lineStyle: { color: '#a52b4a', width: 3.5 },
  })

  return {
    animation: false,
    backgroundColor: '#fff',
    textStyle: { fontFamily: FONT },
    title: panelTitles.map((t) => ({
      text: t.text, left: 80, top: t.top, padding: 0,
      textStyle: { fontFamily: FONT, fontSize: 20, fontWeight: 'normal', color: '#000' },
    })),
    grid, xAxis, yAxis, series,
  }
}

export default function App() {
  const ref = useRef<HTMLDivElement>(null)

  useEffect(() => {
    if (!ref.current) return
    const chart = echarts.init(ref.current, undefined, { renderer: 'svg' })
    chart.setOption(buildOption() as any)
    return () => chart.dispose()
  }, [])

  return <div ref={ref} style={{ position: 'absolute', left: 0, top: 0, width: 1216, height: 1136, background: '#fff' }} />
}
